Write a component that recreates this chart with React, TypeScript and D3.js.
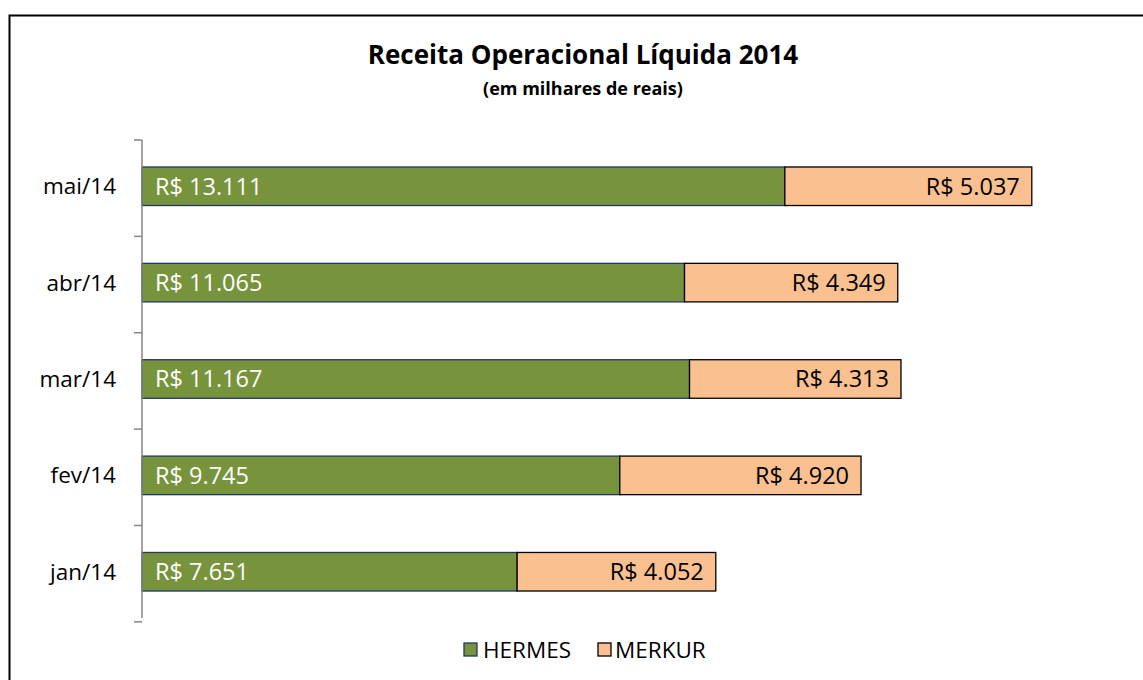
import React from "react";
import * as d3 from "d3";

const categories = ["mai/14", "abr/14", "mar/14", "fev/14", "jan/14"];
const hermes = [13111, 11065, 11167, 9745, 7651];
const merkur = [5037, 4349, 4313, 4920, 4052];
const seriesNames = ["HERMES", "MERKUR"];
const title = "Receita Operacional Líquida 2014";
const subtitle = "(em milhares de reais)";

const W = 1143;
const H = 680;
const FONT = "'Open Sans', 'Noto Sans', sans-serif";
const GREEN = "#77933C";
const GREEN_STROKE = "#1F3864";
const PEACH = "#FAC090";

const fmt = (v: number) => "R$ " + d3.format(",")(v).replace(/,/g, ".");

export default function App() {
  const x = d3.scaleLinear().domain([0, 20000]).range([142, 142 + 980.6]);
  const y = d3.scaleBand<string>().domain(categories).range([140, 618]).paddingInner(0.6).paddingOuter(0.28);
  const bw = y.bandwidth();
  const ticks = d3.range(categories.length + 1).map((i) => 140 + i * y.step());

  return (
    <svg width={W} height={H} style={{ position: "absolute", left: 0, top: 0 }}>
      <rect x={0} y={0} width={W} height={H} fill="#fff" />
      <rect x={9.5} y={15.5} width={W + 10} height={H + 10} fill="none" stroke="#000" strokeWidth={2} />
      <text x={583} y={64} textAnchor="middle" fontFamily={FONT} fontWeight="bold" fontSize={26} fill="#000">{title}</text>
      <text x={583} y={95} textAnchor="middle" fontFamily={FONT} fontWeight="bold" fontSize={18} fill="#000">{subtitle}</text>

      {categories.map((c, i) => {
        const y0 = y(c)!;
        const xh = x(hermes[i]);
        const xm = x(hermes[i] + merkur[i]);
        return (
          <g key={c}>
            <rect x={x(0)} y={y0} width={xh - x(0)} height={bw} fill={GREEN} stroke={GREEN_STROKE} strokeWidth={1.3} />
            <rect x={xh} y={y0} width={xm - xh} height={bw} fill={PEACH} stroke="#000" strokeWidth={1.3} />
            <text x={x(0) + 13} y={y0 + bw / 2} dy="0.36em" fontFamily={FONT} fontSize={23.5} fill="#fff">{fmt(hermes[i])}</text>
            <text x={xm - 12} y={y0 + bw / 2} dy="0.36em" textAnchor="end" fontFamily={FONT} fontSize={23.5} fill="#000">{fmt(merkur[i])}</text>
            <text x={116} y={y0 + bw / 2} dy="0.36em" textAnchor="end" fontFamily={FONT} fontSize={22.5} fill="#000">{c}</text>
          </g>
        );
      })}

      <line x1={142} x2={142} y1={140} y2={618} stroke="#868686" strokeWidth={1.5} />
      {ticks.map((t, i) => (
        <line key={i} x1={134} x2={142} y1={t} y2={t} stroke="#868686" strokeWidth={1.5} />
      ))}

      <g>
        <rect x={464} y={643} width={13} height={13} fill={GREEN} stroke={GREEN_STROKE} strokeWidth={1.3} />
        <text x={483} y={650} dy="0.36em" fontFamily={FONT} fontSize={22.5} fill="#000">{seriesNames[0]}</text>
        <rect x={598} y={643} width={13} height={13} fill={PEACH} stroke="#000" strokeWidth={1.3} />
        <text x={615} y={650} dy="0.36em" fontFamily={FONT} fontSize={22.5} fill="#000">{seriesNames[1]}</text>
      </g>
    </svg>
  );
}
